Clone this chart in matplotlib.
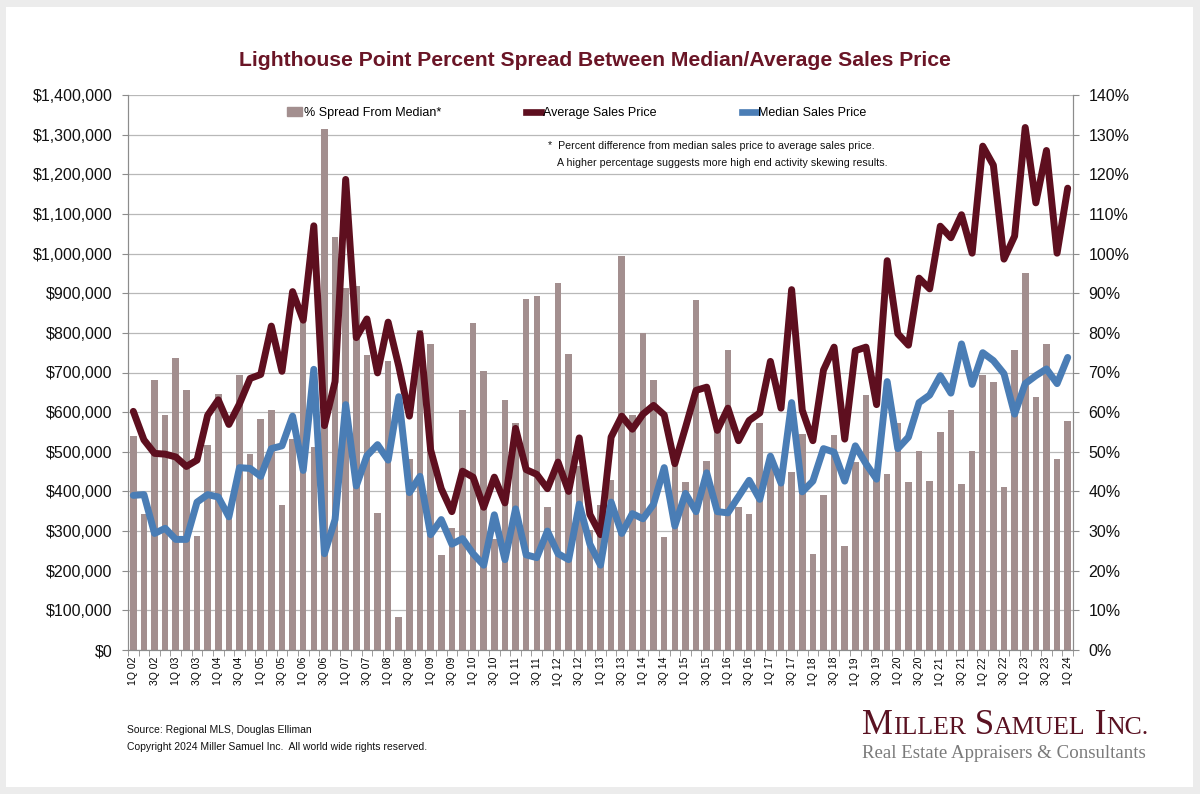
import matplotlib.pyplot as plt
from matplotlib.patches import Rectangle
from matplotlib.lines import Line2D
from matplotlib.ticker import FuncFormatter
import numpy as np

plt.rcParams['font.family'] = ['Liberation Sans', 'DejaVu Sans']

# quarters 1Q 02 .. 1Q 24
quarters = [f"{q}Q {y:02d}" for y in range(2, 25) for q in (1, 2, 3, 4)][:89]

# % spread from median (percent)
spread = [
    53.9, 34.4, 68.2, 59.3,
    73.7, 65.5, 28.7, 51.8,
    64.6, 34.7, 69.4, 49.5,
    58.2, 60.5, 36.7, 53.1,
    83.2, 51.1, 131.5, 104.1,
    91.3, 91.8, 74.4, 34.6,
    73.0, 8.3, 48.1, 80.7,
    77.3, 23.9, 30.9, 60.5,
    82.5, 70.3, 28.0, 63.0,
    57.2, 88.6, 89.2, 36.0,
    92.5, 74.7, 46.4, 30.3,
    36.6, 43.0, 99.3, 59.4,
    79.9, 68.0, 28.5, 48.0,
    42.3, 88.2, 47.7, 57.0,
    75.8, 36.0, 34.2, 57.2,
    47.0, 44.0, 44.9, 54.6,
    24.2, 39.0, 54.3, 26.2,
    47.3, 64.3, 44.0, 44.4,
    57.2, 42.4, 50.2, 42.6,
    55.0, 60.6, 41.9, 50.1,
    69.4, 67.5, 41.0, 75.6,
    95.0, 63.8, 77.3, 48.2,
    57.7,
]

# average sales price ($000)
avg_price = [
    602, 530, 496, 494,
    487, 463, 479, 592,
    631, 569, 621, 685,
    695, 817, 703, 904,
    832, 1070, 566, 677,
    1187, 788, 835, 699,
    827, 716, 590, 797,
    505, 407, 349, 451,
    436, 360, 436, 371,
    559, 455, 443, 407,
    474, 400, 535, 342,
    291, 537, 590, 557,
    595, 617, 593, 470,
    561, 655, 663, 554,
    610, 528, 579, 598,
    728, 610, 909, 605,
    528, 706, 764, 532,
    755, 764, 619, 982,
    798, 769, 938, 911,
    1069, 1040, 1098, 1001,
    1271, 1223, 986, 1044,
    1318, 1128, 1260, 1001,
    1165,
]

# median sales price ($000)
med_price = [
    390, 392, 294, 307,
    279, 279, 373, 392,
    386, 336, 460, 458,
    438, 508, 515, 590,
    453, 708, 243, 329,
    619, 414, 490, 518,
    479, 639, 397, 438,
    291, 329, 267, 281,
    243, 214, 341, 228,
    356, 240, 233, 300,
    243, 228, 368, 267,
    214, 373, 294, 344,
    331, 368, 460, 313,
    395, 349, 447, 349,
    346, 387, 428, 380,
    489, 421, 624, 399,
    426, 508, 499, 426,
    515, 470, 431, 677,
    508, 537, 624, 643,
    692, 648, 772, 670,
    750, 730, 697, 595,
    672, 692, 709, 672,
    738,
]

bar_color = "#a38f8f"
avg_color = "#5e0f1f"
med_color = "#4a7db5"
title_color = "#6a1526"
spine_color = "#8c8c8c"

W, H = 1200, 794
fig = plt.figure(figsize=(W / 100, H / 100), dpi=100)
fig.patch.set_facecolor("#ececec")
fig.add_artist(Rectangle((6 / W, 7 / H), (1193 - 6) / W, (787 - 7) / H,
                         transform=fig.transFigure, facecolor="white",
                         edgecolor="none", zorder=-1))

ax = fig.add_axes([128 / W, 1 - 650 / H, (1073 - 128) / W, (650 - 95) / H])
x = np.arange(len(quarters))
ax.bar(x, spread, width=0.62, color=bar_color, zorder=2)
ax.set_xlim(-0.5, len(quarters) - 0.5)
ax.set_ylim(0, 140)
ax.set_yticks(range(0, 141, 10))
ax.yaxis.set_major_formatter(FuncFormatter(lambda v, p: f"{v:.0f}%"))
ax.grid(axis="y", color="#b8b8b8", lw=0.9)
ax.set_axisbelow(True)

ax2 = ax.twinx()
ax2.plot(x, [v * 1000 for v in avg_price], color=avg_color, lw=5,
         solid_joinstyle="round", solid_capstyle="round", zorder=3)
ax2.plot(x, [v * 1000 for v in med_price], color=med_color, lw=5,
         solid_joinstyle="round", solid_capstyle="round", zorder=4)
ax2.set_ylim(0, 1400000)
ax2.set_yticks(range(0, 1400001, 100000))
ax2.yaxis.set_major_formatter(FuncFormatter(lambda v, p: f"${v:,.0f}"))

# bars' axis on the right, prices on the left
ax.yaxis.tick_right()
ax2.yaxis.tick_left()

for a in (ax, ax2):
    a.spines["top"].set_visible(False)
    for s in ("left", "right", "bottom"):
        a.spines[s].set_color(spine_color)
    a.tick_params(axis="y", labelsize=11.5, length=4, color=spine_color,
                  pad=7, labelcolor="#111111")

ax.set_xticks(x[::2])
ax.set_xticklabels(quarters[::2], rotation=90, fontsize=7.5)
ax.set_xticks(np.arange(-0.5, len(quarters), 1), minor=True)
ax.tick_params(axis="x", which="major", length=0, pad=5)
ax.tick_params(axis="x", which="minor", length=4, color=spine_color)

fig.text(595 / W, 1 - 61 / H,
         "Lighthouse Point Percent Spread Between Median/Average Sales Price",
         ha="center", va="center", fontsize=15.2, fontweight="bold",
         color=title_color)

handles = [Rectangle((0, 0), 1, 1, color=bar_color),
           Line2D([], [], color=avg_color, lw=4.8),
           Line2D([], [], color=med_color, lw=4.8)]
ax2.legend(handles, ["% Spread From Median*", "Average Sales Price", "Median Sales Price"],
           loc="center", bbox_to_anchor=(0.475, 0.9676), ncol=3, frameon=False,
           fontsize=9, columnspacing=6.8, handlelength=1.2, handletextpad=0.15)

fig.text(548 / W, 1 - 146 / H,
         "*  Percent difference from median sales price to average sales price.",
         ha="left", va="center", fontsize=7.7, color="#111111")
fig.text(557 / W, 1 - 163 / H,
         "A higher percentage suggests more high end activity skewing results.",
         ha="left", va="center", fontsize=7.7, color="#111111")

fig.text(127 / W, 1 - 730 / H, "Source: Regional MLS, Douglas Elliman",
         ha="left", va="center", fontsize=7.5, color="#111111")
fig.text(127 / W, 1 - 747 / H,
         "Copyright 2024 Miller Samuel Inc.  All world wide rights reserved.",
         ha="left", va="center", fontsize=7.5, color="#111111")

# logo in small caps
renderer = fig.canvas.get_renderer()
pieces = [("M", 25), ("ILLER", 18.5), (" S", 25), ("AMUEL", 18.5),
          (" I", 25), ("NC.", 18.5)]
xpos = 862
for txt, size in pieces:
    t = fig.text(xpos / W, 1 - 734 / H, txt, ha="left", va="baseline",
                 fontsize=size, family="Liberation Serif", color="#5a1222")
    xpos = t.get_window_extent(renderer).x1
fig.text(862 / W, 1 - 758 / H, "Real Estate Appraisers & Consultants",
         ha="left", va="baseline", fontsize=13.6, family="Liberation Serif",
         color="#7a7a7a")

fig.savefig("out.png", dpi=100, facecolor=fig.get_facecolor())
